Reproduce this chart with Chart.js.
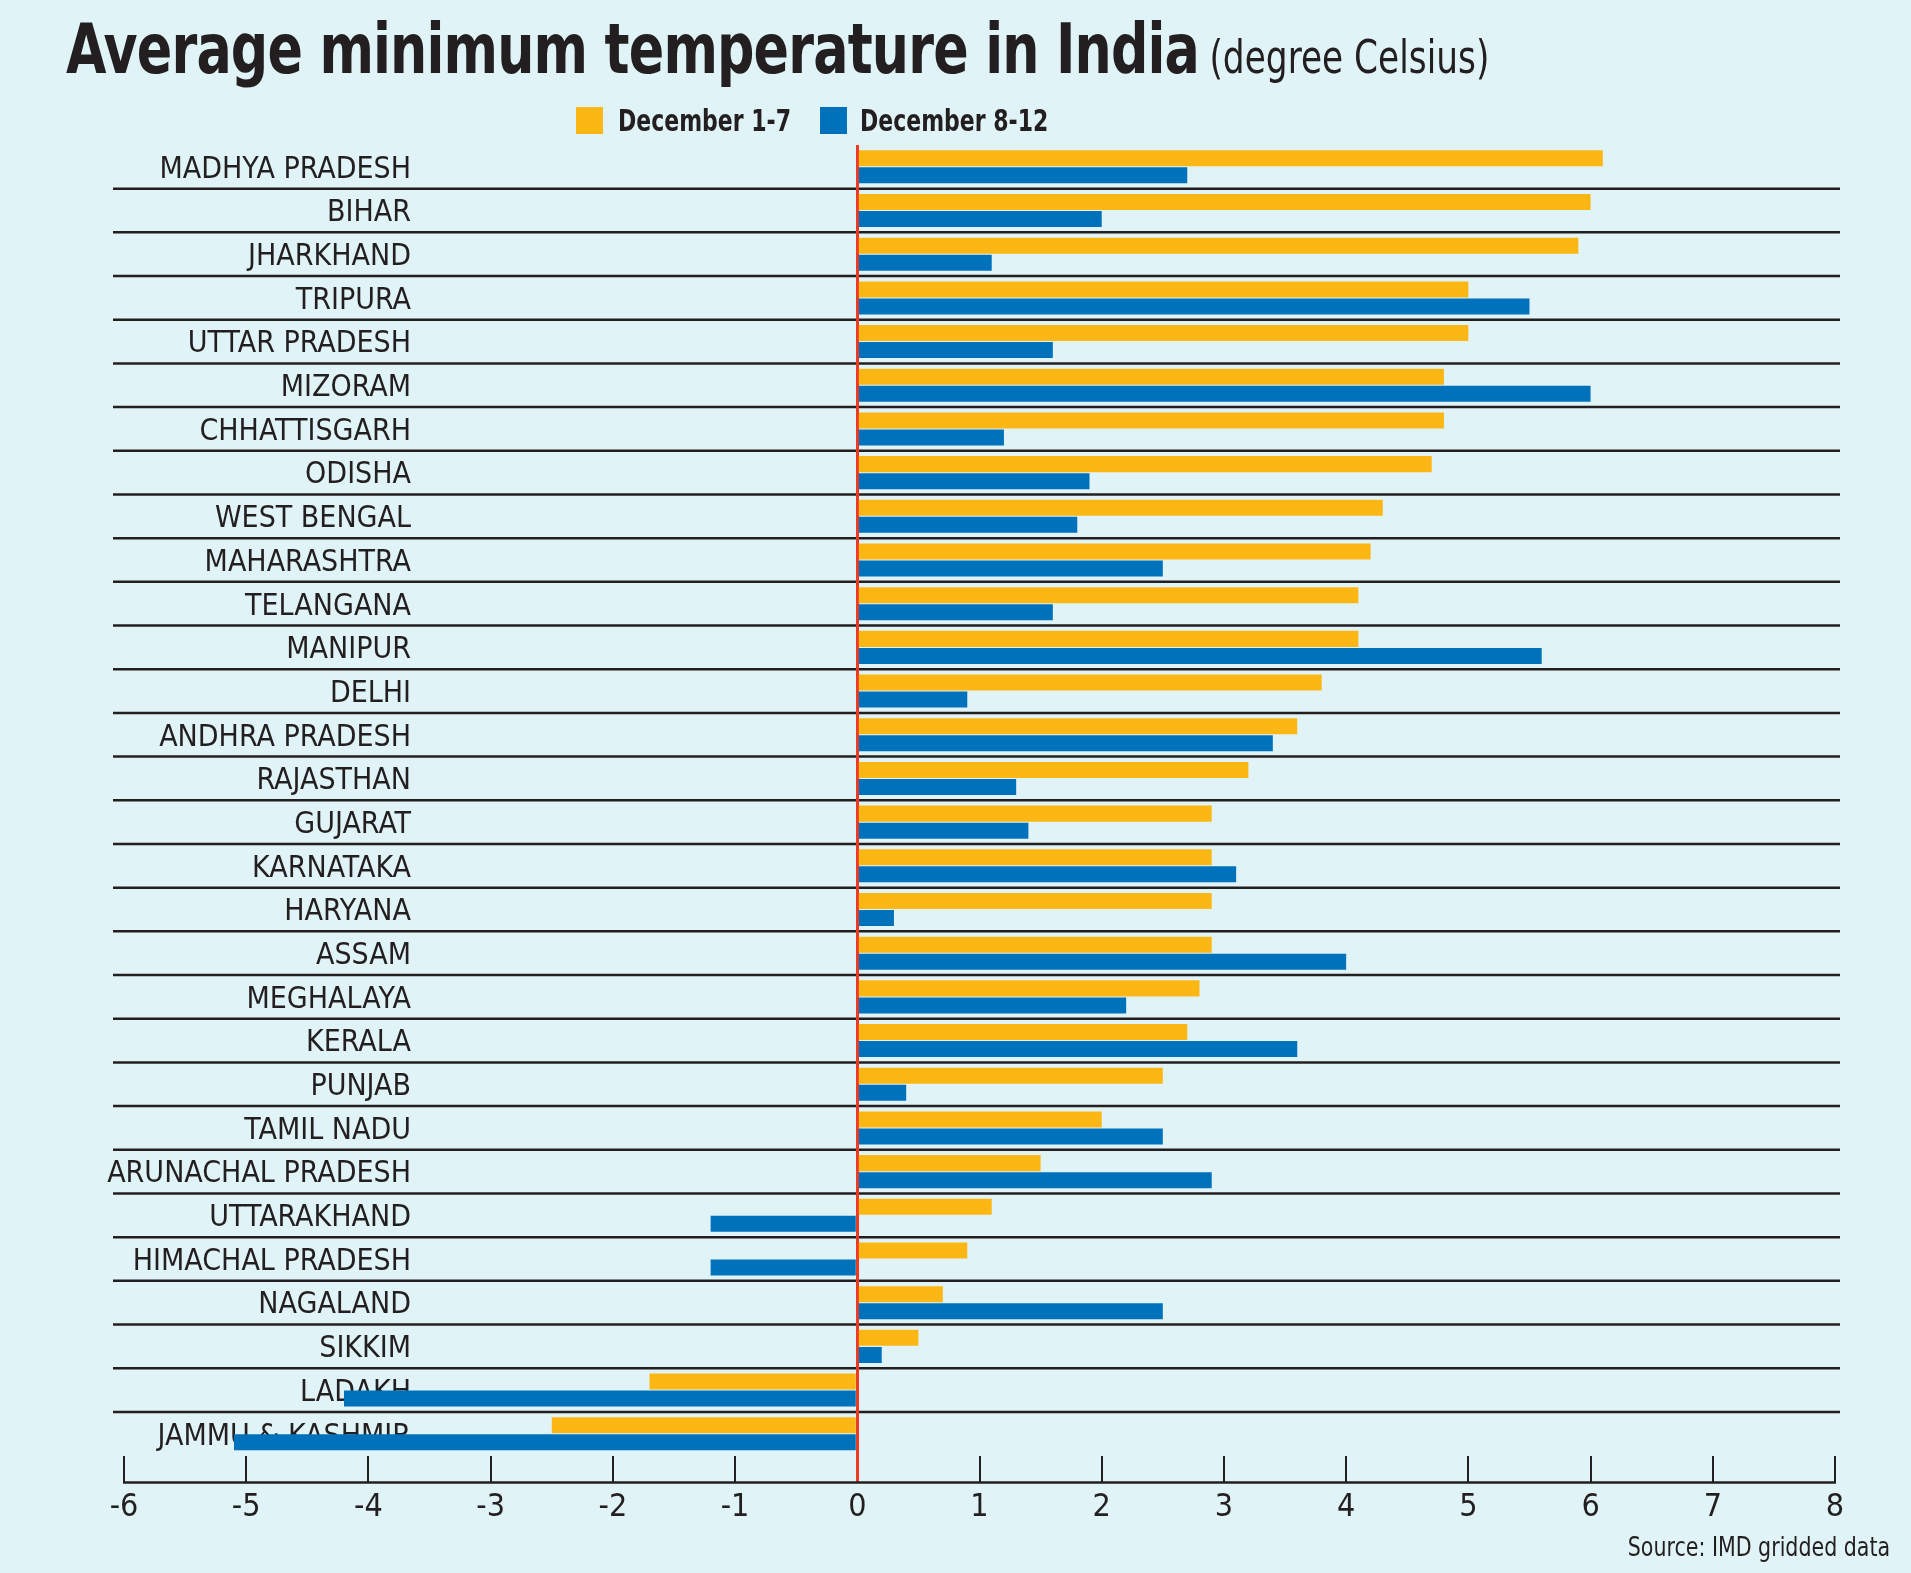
<!DOCTYPE html>
<html>
<head>
<meta charset="utf-8">
<title>Average minimum temperature in India</title>
<script src="https://cdn.jsdelivr.net/npm/chart.js@4.4.1/dist/chart.umd.min.js"></script>
<style>
  html, body { margin: 0; padding: 0; background: #e0f3f6; }
  #page { position: relative; width: 1911px; height: 1573px; overflow: hidden;
          font-family: 'DejaVu Sans Condensed', 'Liberation Sans Narrow', sans-serif; color: #231f20; }
  #chart { position: absolute; left: 0; top: 0; }
  .title { position: absolute; left: 66px; top: 14px; white-space: nowrap; line-height: 1;
           transform: scaleX(0.83); transform-origin: 0 0; }
  .title b { font-size: 70px; font-weight: 700; letter-spacing: -1px; }
  .title span { font-size: 46px; margin-left: 8px; }
  .lg-box { position: absolute; top: 107px; width: 27px; height: 27px; }
  .lg-text { position: absolute; top: 104px; font-size: 30px; font-weight: 700; line-height: 34px; white-space: nowrap;
             transform: scaleX(0.815); transform-origin: 0 0; }
  .source { position: absolute; right: 21px; top: 1532px; font-size: 26px; line-height: 30px; white-space: nowrap;
            transform: scaleX(0.88); transform-origin: 100% 0; }
</style>
</head>
<body>
<div id="page">
  <canvas id="chart" width="1911" height="1573"></canvas>
  <div class="title"><b>Average minimum temperature in India</b> <span>(degree Celsius)</span></div>
  <div class="lg-box" style="left:576px;background:#fdb714"></div>
  <div class="lg-text" style="left:618px">December 1-7</div>
  <div class="lg-box" style="left:820px;background:#0072bc"></div>
  <div class="lg-text" style="left:860px">December 8-12</div>
  <div class="source">Source: IMD gridded data</div>
</div>
<script>
// values, top row first
const states = [
  'MADHYA PRADESH', 'BIHAR', 'JHARKHAND', 'TRIPURA', 'UTTAR PRADESH', 'MIZORAM',
  'CHHATTISGARH', 'ODISHA', 'WEST BENGAL', 'MAHARASHTRA', 'TELANGANA', 'MANIPUR',
  'DELHI', 'ANDHRA PRADESH', 'RAJASTHAN', 'GUJARAT', 'KARNATAKA', 'HARYANA',
  'ASSAM', 'MEGHALAYA', 'KERALA', 'PUNJAB', 'TAMIL NADU', 'ARUNACHAL PRADESH',
  'UTTARAKHAND', 'HIMACHAL PRADESH', 'NAGALAND', 'SIKKIM', 'LADAKH', 'JAMMU & KASHMIR'
];
const dec1to7 = [
  6.1, 6.0, 5.9, 5.0, 5.0, 4.8,
  4.8, 4.7, 4.3, 4.2, 4.1, 4.1,
  3.8, 3.6, 3.2, 2.9, 2.9, 2.9,
  2.9, 2.8, 2.7, 2.5, 2.0, 1.5,
  1.1, 0.9, 0.7, 0.5, -1.7, -2.5
];
const dec8to12 = [
  2.7, 2.0, 1.1, 5.5, 1.6, 6.0,
  1.2, 1.9, 1.8, 2.5, 1.6, 5.6,
  0.9, 3.4, 1.3, 1.4, 3.1, 0.3,
  4.0, 2.2, 3.6, 0.4, 2.5, 2.9,
  -1.2, -1.2, 2.5, 0.2, -4.2, -5.1
];
const xMin = -6;
const xMax = 8;

const FONT = "'DejaVu Sans Condensed', 'Liberation Sans Narrow', sans-serif";
const INK = '#231f20';
const RED = '#ee3a24';
const CHART_LEFT = 124;
const CHART_RIGHT = 1835;
const LABEL_RIGHT = 411;   // right edge of the state names (pixels)
const TICK_LEN = 27;

// the state names sit inside the plot, right-aligned at LABEL_RIGHT;
// express that edge on the x scale so the category axis can be pinned there
const labelEdge = xMin + (LABEL_RIGHT - CHART_LEFT) / (CHART_RIGHT - CHART_LEFT) * (xMax - xMin);

// rules between the state rows
const rowLines = {
  id: 'rowLines',
  beforeDraw(chart) {
    const { ctx, chartArea, scales: { y } } = chart;
    ctx.save();
    ctx.strokeStyle = INK;
    ctx.lineWidth = 2.5;
    for (let i = 0; i < states.length - 1; i++) {
      const yy = (y.getPixelForValue(i) + y.getPixelForValue(i + 1)) / 2;
      ctx.beginPath();
      ctx.moveTo(chartArea.left - 11, yy);
      ctx.lineTo(chartArea.right + 5, yy);
      ctx.stroke();
    }
    ctx.restore();
  }
};

// axis line at the foot of the upward ticks
const axisLine = {
  id: 'axisLine',
  afterDraw(chart) {
    const { ctx, scales: { x } } = chart;
    const yy = x.top + TICK_LEN;
    ctx.save();
    ctx.strokeStyle = INK;
    ctx.lineWidth = 2.5;
    ctx.beginPath();
    ctx.moveTo(x.left - 1, yy);
    ctx.lineTo(x.right + 1, yy);
    ctx.stroke();
    ctx.restore();
  }
};

new Chart(document.getElementById('chart'), {
  type: 'bar',
  data: {
    labels: states,
    datasets: [
      { label: 'December 1-7', data: dec1to7, backgroundColor: '#fdb714' },
      { label: 'December 8-12', data: dec8to12, backgroundColor: '#0072bc' }
    ]
  },
  options: {
    indexAxis: 'y',
    responsive: false,
    animation: false,
    categoryPercentage: 0.78,
    barPercentage: 0.94,
    layout: { padding: { left: CHART_LEFT, right: 1911 - CHART_RIGHT, top: 145, bottom: 40 } },
    plugins: {
      legend: { display: false },
      tooltip: { enabled: false }
    },
    scales: {
      x: {
        type: 'linear',
        min: xMin,
        max: xMax,
        z: 1,
        border: { display: false },
        grid: {
          drawOnChartArea: true,
          tickLength: TICK_LEN,
          color: (c) => (c.tick && c.tick.value === 0 ? RED : 'rgba(0,0,0,0)'),
          lineWidth: (c) => (c.tick && c.tick.value === 0 ? 3 : 0),
          tickColor: (c) => (c.tick && c.tick.value === 0 ? RED : INK),
          tickWidth: (c) => (c.tick && c.tick.value === 0 ? 3 : 2)
        },
        ticks: {
          stepSize: 1,
          padding: 6,
          color: INK,
          font: { family: FONT, size: 32 }
        }
      },
      y: {
        position: { x: labelEdge },
        z: 1,
        border: { display: false },
        grid: { display: false, drawTicks: false },
        ticks: {
          padding: 0,
          labelOffset: 3,
          color: INK,
          font: { family: FONT, size: 30 }
        }
      }
    }
  },
  plugins: [rowLines, axisLine]
});
</script>
</body>
</html>
